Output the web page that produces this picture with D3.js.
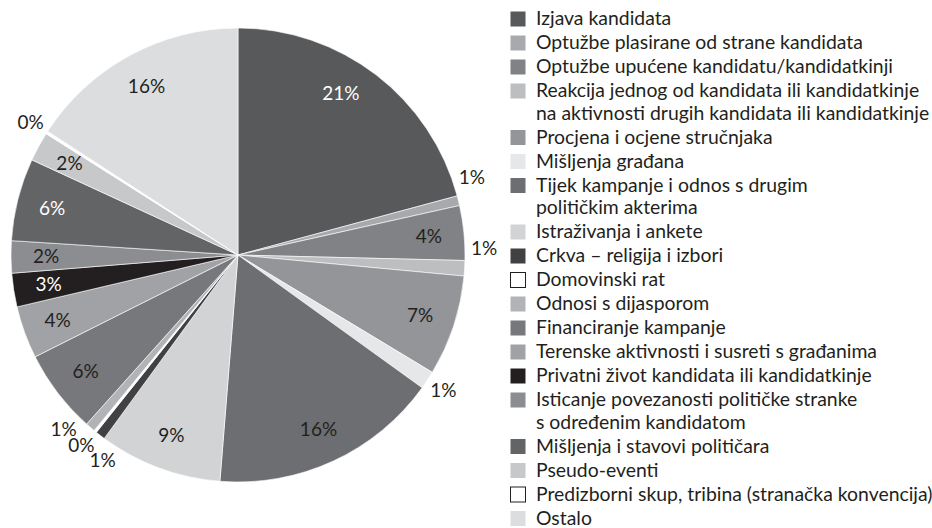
<!DOCTYPE html>
<html lang="hr">
<head>
<meta charset="UTF-8">
<title>Pie chart</title>
<style>
    body { margin: 0; background: #fff; }
    svg { display: block; font-family: Lato, 'Open Sans', sans-serif; }
</style>
</head>
<body>
<div id="chart"></div>
<script src="https://d3js.org/d3.v7.min.js"></script>
<script>
const categories = [
    ["Izjava kandidata"],
    ["Optužbe plasirane od strane kandidata"],
    ["Optužbe upućene kandidatu/kandidatkinji"],
    ["Reakcija jednog od kandidata ili kandidatkinje", "na aktivnosti drugih kandidata ili kandidatkinje"],
    ["Procjena i ocjene stručnjaka"],
    ["Mišljenja građana"],
    ["Tijek kampanje i odnos s drugim", "političkim akterima"],
    ["Istraživanja i ankete"],
    ["Crkva – religija i izbori"],
    ["Domovinski rat"],
    ["Odnosi s dijasporom"],
    ["Financiranje kampanje"],
    ["Terenske aktivnosti i susreti s građanima"],
    ["Privatni život kandidata ili kandidatkinje"],
    ["Isticanje povezanosti političke stranke", "s određenim kandidatom"],
    ["Mišljenja i stavovi političara"],
    ["Pseudo-eventi"],
    ["Predizborni skup, tribina (stranačka konvencija)"],
    ["Ostalo"]
];
// shares (%)
const values = [20.9, 0.7, 3.9, 1.1, 7.2, 1.3, 16.4, 8.8, 0.7, 0.2, 0.7, 6.0, 3.75, 2.4, 2.3, 5.9, 2.1, 0.2, 15.9];
const labels = ["21%", "1%", "4%", "1%", "7%", "1%", "16%", "9%", "1%", "0%", "1%", "6%", "4%", "3%", "2%", "6%", "2%", "0%", "16%"];
const colors = ["#58595b", "#a7a9ac", "#808285", "#bcbec0", "#939598", "#e6e7e8", "#6d6e71", "#d1d3d4",
    "#414042", "#ffffff", "#b1b3b6", "#77787b", "#a0a2a5", "#231f20", "#8b8d90", "#636466",
    "#c7c8ca", "#ffffff", "#dcdddf"];
const whiteText = ["#58595b", "#231f20", "#636466"];

const width = 932, height = 528;
const cx = 238, cy = 255, radius = 227;

// angle nudges (degrees) for the crowded outside labels
const labelNudge = {0: -5, 1: -4.5, 3: -5, 8: -4, 9: 0.5, 10: 4.5};

const svg = d3.select("#chart").append("svg")
    .attr("width", width)
    .attr("height", height);

const pie = d3.pie().sort(null).value(d => d);
const arcs = pie(values);
const arc = d3.arc().innerRadius(0).outerRadius(radius);

const g = svg.append("g").attr("transform", `translate(${cx},${cy})`);

g.selectAll("path")
    .data(arcs)
    .enter().append("path")
    .attr("d", arc)
    .attr("fill", (d, i) => colors[i])
    .attr("stroke", "#fff")
    .attr("stroke-width", 0.6);

g.selectAll("text")
    .data(arcs)
    .enter().append("text")
    .attr("transform", (d, i) => {
        const outside = values[i] < 1.5;
        const r = outside ? radius * 1.085 : radius * 0.845;
        const a = (d.startAngle + d.endAngle) / 2 + (labelNudge[i] || 0) * Math.PI / 180;
        return `translate(${Math.sin(a) * r},${-Math.cos(a) * r})`;
    })
    .attr("text-anchor", "middle")
    .attr("dy", "0.35em")
    .attr("font-size", 19)
    .attr("fill", (d, i) => values[i] >= 1.5 && whiteText.includes(colors[i]) ? "#fff" : "#231f20")
    .text((d, i) => labels[i]);

// legend
const legend = svg.append("g").attr("transform", "translate(510,0)");
let y = 19;
categories.forEach((lines, i) => {
    const item = legend.append("g");
    item.append("rect")
        .attr("x", 0.5)
        .attr("y", y - 7.5)
        .attr("width", 15)
        .attr("height", 15)
        .attr("fill", colors[i])
        .attr("stroke", colors[i] === "#ffffff" ? "#231f20" : "none")
        .attr("stroke-width", 1);
    lines.forEach((line, j) => {
        item.append("text")
            .attr("x", 26)
            .attr("y", y + 6 + j * 22.5)
            .attr("font-size", 19.4)
            .attr("fill", "#231f20")
            .text(line);
    });
    y += (lines.length - 1) * 22.5 + 24;
});
</script>
</body>
</html>
